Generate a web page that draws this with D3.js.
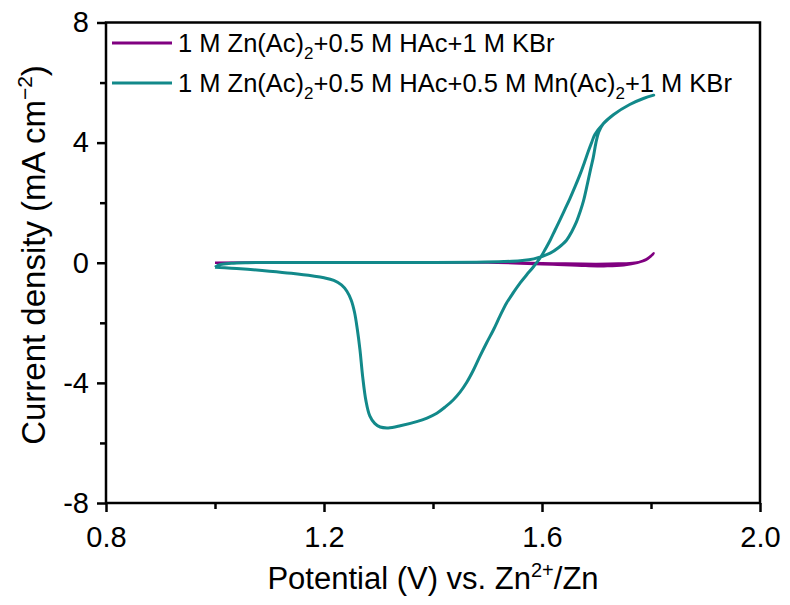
<!DOCTYPE html>
<html>
<head>
<meta charset="utf-8">
<script src="https://cdn.jsdelivr.net/npm/d3@7"></script>
<style>
    body { margin: 0; background: #fff; }
    text { font-family: "Liberation Sans", Arial, sans-serif; fill: #000; }
</style>
</head>
<body>
<script>
(function(){

    //cyclic voltammetry scans, [potential (V), current density (mA cm-2)]
    //scan starts at 1.0 V, goes up to 1.8 V and back
    var kbrScan = [
        [1.000,0.00],[1.200,0.01],[1.400,0.01],[1.500,0.01],[1.560,-0.02],
        [1.620,-0.06],[1.680,-0.10],[1.720,-0.11],[1.750,-0.08],[1.775,0.00],
        [1.792,0.12],[1.805,0.31],[1.790,0.09],[1.770,0.00],[1.740,-0.03],
        [1.700,-0.04],[1.640,-0.03],[1.580,-0.01],[1.500,0.01],[1.300,0.01],
        [1.100,0.01],[1.000,0.00]
    ];

    var mnScan = [
        [1.000,-0.15],[1.010,-0.06],[1.030,-0.02],[1.060,0.00],[1.100,0.01],
        [1.200,0.01],[1.300,0.01],[1.400,0.01],[1.480,0.02],[1.530,0.04],
        [1.560,0.07],[1.585,0.13],[1.615,0.32],[1.630,0.50],[1.645,0.75],
        [1.655,1.05],[1.663,1.35],[1.670,1.70],[1.676,2.05],[1.683,2.60],
        [1.689,3.10],[1.694,3.50],[1.699,4.00],[1.704,4.35],[1.712,4.62],
        [1.731,4.93],[1.761,5.27],[1.786,5.47],[1.805,5.58],
        [1.786,5.47],[1.761,5.27],[1.731,4.93],[1.712,4.62],[1.697,4.27],
        [1.691,4.00],[1.685,3.71],[1.678,3.35],[1.670,2.95],[1.661,2.55],
        [1.651,2.13],[1.642,1.78],[1.633,1.43],[1.624,1.09],[1.615,0.75],
        [1.606,0.45],[1.598,0.20],[1.584,-0.14],[1.572,-0.40],[1.560,-0.67],
        [1.548,-0.98],[1.535,-1.34],[1.523,-1.77],[1.511,-2.23],[1.498,-2.68],
        [1.486,-3.12],[1.474,-3.58],[1.462,-3.98],[1.450,-4.30],[1.437,-4.57],
        [1.422,-4.81],[1.407,-5.01],[1.389,-5.17],[1.370,-5.29],[1.340,-5.43],
        [1.318,-5.50],[1.303,-5.47],[1.293,-5.35],[1.284,-5.10],[1.277,-4.60],
        [1.271,-3.80],[1.266,-2.90],[1.261,-2.20],[1.256,-1.65],[1.250,-1.25],
        [1.242,-0.95],[1.232,-0.74],[1.218,-0.59],[1.200,-0.50],[1.180,-0.44],
        [1.140,-0.35],[1.100,-0.28],[1.060,-0.22],[1.030,-0.18],[1.000,-0.15]
    ];

    //axis ticks
    var xMajor = [0.8, 1.2, 1.6, 2.0],
        xMinor = [1.0, 1.4, 1.8],
        yMajor = [-8, -4, 0, 4, 8],
        yMinor = [-6, -2, 2, 6];

    var seriesColors = ["#800080", "#12898a"];

    //svg frame
    var width = 790,
        height = 605,
        left = 106,
        right = 760,
        top = 22.5,
        bottom = 503;

    var svg = d3.select("body")
        .append("svg")
        .attr("width", width)
        .attr("height", height);

    var x = d3.scaleLinear()
        .domain([0.8, 2.0])
        .range([left, right]);

    var y = d3.scaleLinear()
        .domain([-8, 8])
        .range([bottom, top]);

    var line = d3.line()
        .x(function(d){ return x(d[0]); })
        .y(function(d){ return y(d[1]); })
        .curve(d3.curveCatmullRom.alpha(0.5));

    //curves, KBr first so the Mn curve sits on top
    svg.append("path")
        .datum(kbrScan)
        .attr("d", line)
        .attr("fill", "none")
        .attr("stroke", seriesColors[0])
        .attr("stroke-width", 2.6)
        .attr("stroke-linejoin", "round");

    svg.append("path")
        .datum(mnScan)
        .attr("d", line)
        .attr("fill", "none")
        .attr("stroke", seriesColors[1])
        .attr("stroke-width", 3)
        .attr("stroke-linejoin", "round");

    //axes
    function styleAxis(g){
        g.select(".domain").remove();
        g.selectAll(".tick line").attr("stroke", "#000").attr("stroke-width", 2.5);
        g.selectAll(".tick text").attr("font-size", 29).attr("font-family", "Liberation Sans, Arial, sans-serif");
    }

    //plain hyphen for negative labels
    var plainFormat = function(d){ return String(d); };

    svg.append("g")
        .attr("transform", "translate(0," + bottom + ")")
        .call(d3.axisBottom(x).tickValues(xMinor).tickSize(6).tickFormat(""))
        .call(styleAxis);

    svg.append("g")
        .attr("transform", "translate(0," + bottom + ")")
        .call(d3.axisBottom(x).tickValues(xMajor).tickSize(9).tickPadding(14).tickFormat(d3.format(".1f")))
        .call(styleAxis);

    svg.append("g")
        .attr("transform", "translate(" + left + ",0)")
        .call(d3.axisLeft(y).tickValues(yMinor).tickSize(6).tickFormat(""))
        .call(styleAxis);

    svg.append("g")
        .attr("transform", "translate(" + left + ",0)")
        .call(d3.axisLeft(y).tickValues(yMajor).tickSize(9).tickPadding(8).tickFormat(plainFormat))
        .call(styleAxis);

    //frame
    svg.append("rect")
        .attr("x", left)
        .attr("y", top)
        .attr("width", right - left)
        .attr("height", bottom - top)
        .attr("fill", "none")
        .attr("stroke", "#000")
        .attr("stroke-width", 2.5);

    //axis titles
    var xTitle = svg.append("text")
        .attr("x", (left + right) / 2)
        .attr("y", 589)
        .attr("text-anchor", "middle")
        .attr("font-size", 31);
    xTitle.append("tspan").text("Potential (V) vs. Zn");
    xTitle.append("tspan").attr("dy", -12).attr("font-size", 20).text("2+");
    xTitle.append("tspan").attr("dy", 12).text("/Zn");

    var yTitle = svg.append("text")
        .attr("transform", "translate(45," + 255 + ") rotate(-90)")
        .attr("text-anchor", "middle")
        .attr("font-size", 33);
    yTitle.append("tspan").text("Current density (mA cm");
    yTitle.append("tspan").attr("dy", -13).attr("font-size", 21).text("\u22122");
    yTitle.append("tspan").attr("dy", 13).text(")");

    //legend
    var legendRows = [
        ["1 M Zn(Ac)", "2", "+0.5 M HAc+1 M KBr"],
        ["1 M Zn(Ac)", "2", "+0.5 M HAc+0.5 M Mn(Ac)", "2", "+1 M KBr"]
    ];

    legendRows.forEach(function(parts, i){
        var ly = 43 + i * 40;
        svg.append("line")
            .attr("x1", 112)
            .attr("x2", 172)
            .attr("y1", ly)
            .attr("y2", ly)
            .attr("stroke", seriesColors[i])
            .attr("stroke-width", 3);

        var t = svg.append("text")
            .attr("x", 178)
            .attr("y", ly + 9)
            .attr("font-size", 25.5);
        parts.forEach(function(p, k){
            if (k % 2 == 1){
                t.append("tspan").attr("dy", 7).attr("font-size", 17).text(p);
            } else {
                t.append("tspan").attr("dy", k == 0 ? 0 : -7).text(p);
            }
        });
    });

})();
</script>
</body>
</html>
